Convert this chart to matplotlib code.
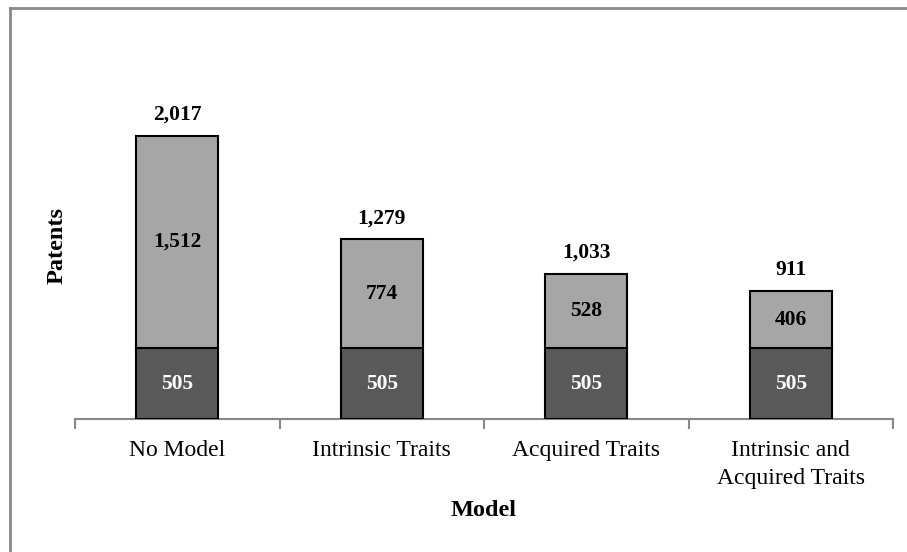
import numpy as np
import matplotlib
matplotlib.use("Agg")
import matplotlib.pyplot as plt
from matplotlib.lines import Line2D

plt.rcParams.update({
    "font.family": "serif",
    "font.serif": ["Liberation Serif", "DejaVu Serif"],
})

# data
models = ["No Model", "Intrinsic Traits", "Acquired Traits", "Intrinsic and\nAcquired Traits"]
base = [505, 505, 505, 505]
extra = [1512, 774, 528, 406]
totals = [2017, 1279, 1033, 911]

fig = plt.figure(figsize=(9.07, 5.52), dpi=100)
ax = fig.add_axes([0.0827, 0.2409, 0.9019, 0.6359])

x = np.arange(len(models))
w = 0.4
ax.bar(x, base, w, color="#595959", edgecolor="black", linewidth=1.5, zorder=3)
ax.bar(x, extra, w, bottom=base, color="#a6a6a6", edgecolor="black", linewidth=1.5, zorder=3)

for i in range(len(models)):
    ax.text(x[i], base[i] / 2, "{:,}".format(base[i]), ha="center", va="center",
            color="white", fontsize=15.5, fontweight="bold")
    ax.text(x[i], base[i] + extra[i] / 2, "{:,}".format(extra[i]), ha="center", va="center",
            color="black", fontsize=15.5, fontweight="bold")
    ax.text(x[i], totals[i] + 150, "{:,}".format(totals[i]), ha="center", va="center",
            color="black", fontsize=15.5, fontweight="bold")

ax.set_xlim(-0.5, len(models) - 0.5)
ax.set_ylim(0, 2500)
ax.set_yticks([])
for s in ["top", "right", "left"]:
    ax.spines[s].set_visible(False)
ax.spines["bottom"].set_color("#888888")
ax.spines["bottom"].set_linewidth(1.5)

ax.set_xticks(x)
ax.set_xticklabels(models, fontsize=17, linespacing=1.45)
ax.tick_params(axis="x", length=0, pad=15)
ax.set_xticks(np.arange(-0.5, len(models), 1.0), minor=True)
ax.tick_params(axis="x", which="minor", length=7, width=1.5, color="#888888", direction="out")

fig.text(0.5336, 1 - 511 / 552, "Model", ha="center", va="center", fontsize=17.5, fontweight="bold")
fig.text(57 / 907, 1 - 246 / 552, "Patents", ha="center", va="center", rotation=90,
         fontsize=17.5, fontweight="bold")

# chart border (top and left visible)
fig.add_artist(Line2D([10 / 907, 1.0], [1 - 7.5 / 552] * 2, color="#888888", lw=2))
fig.add_artist(Line2D([10 / 907] * 2, [0, 1 - 7.5 / 552], color="#888888", lw=2))

plt.savefig("out.png", dpi=100)
